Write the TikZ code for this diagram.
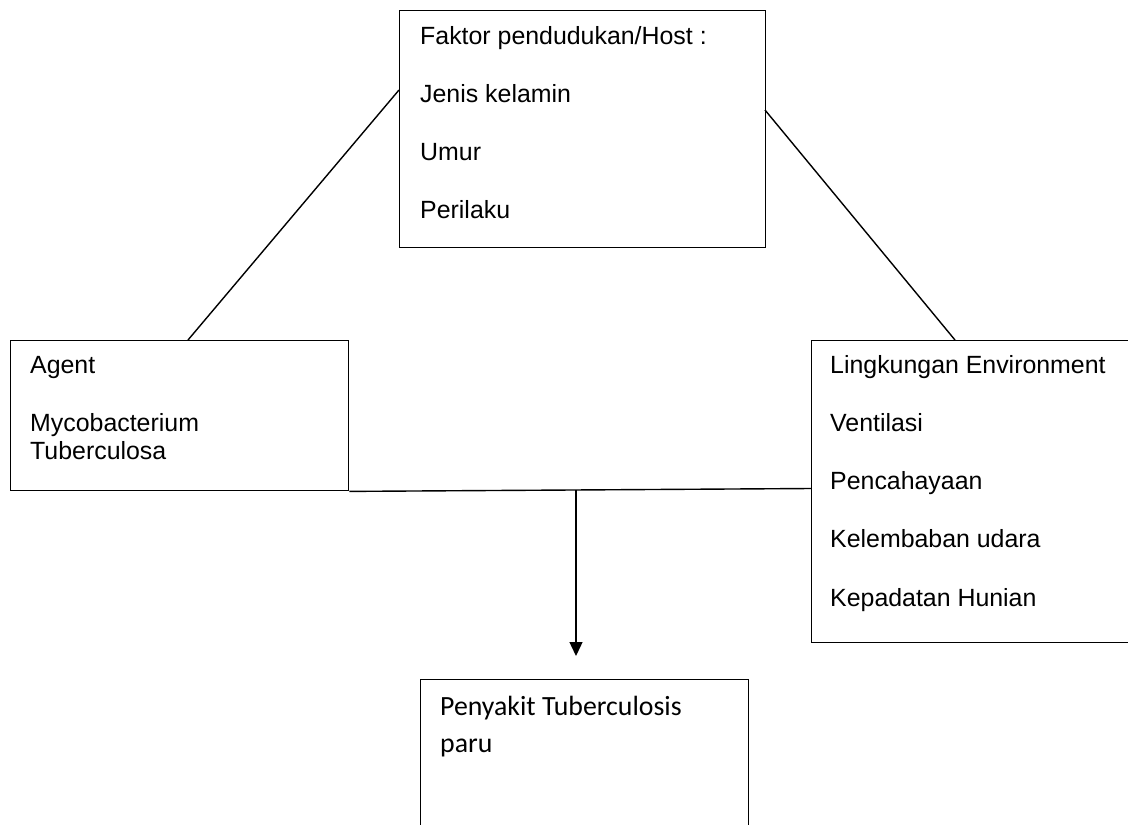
\documentclass[tikz,border=0pt]{standalone}
\usepackage{fontspec}
\setmainfont{Liberation Sans}
\newfontfamily\calibrifont{Carlito}
\usetikzlibrary{arrows.meta}
\begin{document}
\begin{tikzpicture}[x=1pt,y=-1pt,
  box/.style={draw,line width=1.4pt,rectangle,anchor=north west,inner sep=0pt},
  txt/.style={anchor=base west,inner sep=0pt,font=\fontsize{24.9}{28}\selectfont},
  ctxt/.style={anchor=base west,inner sep=0pt,font=\calibrifont\fontsize{27.8}{32}\selectfont},
  link/.style={line width=1.4pt}]
\clip (0,0) rectangle (1128,825);
\fill[white] (0,0) rectangle (1128,825);
% boxes
\node[box,minimum width=366pt,minimum height=237pt] (host) at (399,10) {};
\node[box,minimum width=338pt,minimum height=150pt] (agent) at (10,340) {};
\node[box,minimum width=360pt,minimum height=302pt] (env) at (811,340) {};
\node[box,minimum width=328pt,minimum height=200pt] (sick) at (420,679) {};
% texts
\node[txt] (h1) at (420,44) {Faktor pendudukan/Host :};
\node[txt] (h2) at (420,102) {Jenis kelamin};
\node[txt] (h3) at (420,160) {Umur};
\node[txt] (h4) at (420,218) {Perilaku};
\node[txt] (a1) at (30,373) {Agent};
\node[txt] (a2) at (30,431) {Mycobacterium};
\node[txt] (a3) at (30,459) {Tuberculosa};
\node[txt] (e1) at (830,373) {Lingkungan Environment};
\node[txt] (e2) at (830,431) {Ventilasi};
\node[txt] (e3) at (830,489) {Pencahayaan};
\node[txt] (e4) at (830,547) {Kelembaban udara};
\node[txt] (e5) at (830,606) {Kepadatan Hunian};
\node[ctxt] (s1) at (440,715) {Penyakit Tuberculosis};
\node[ctxt] (s2) at (440,752) {paru};
% connector points
\coordinate (hl) at (399,90);
\coordinate (al) at (188,340);
\coordinate (hr) at (765,110);
\coordinate (er) at (955,340);
\coordinate (ew) at (811,488.5);
\coordinate (mid) at (576,490);
\coordinate (tip) at (576,656);
% connectors
\draw[link] (al) -- (hl);
\draw[link] (hr) -- (er);
\draw[link] (agent.south east) -- (ew);
\draw[link,-{Triangle[length=14pt,width=13pt]}] (mid) -- (tip);
\end{tikzpicture}
\end{document}
